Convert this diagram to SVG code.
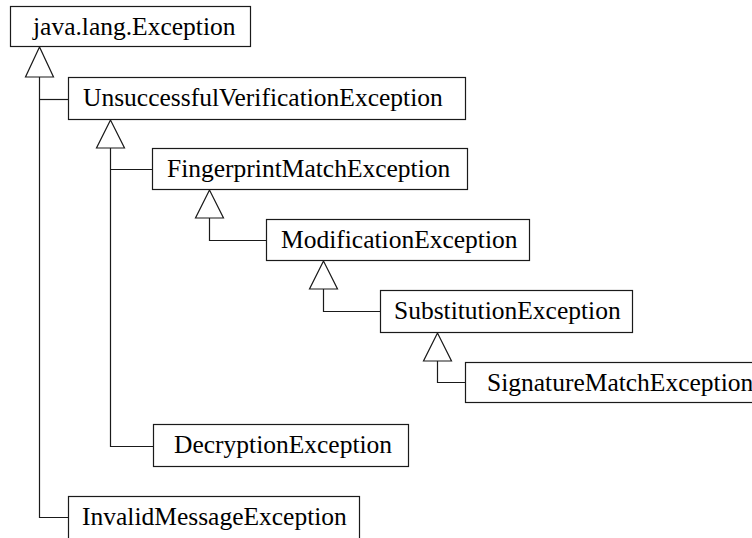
<svg xmlns="http://www.w3.org/2000/svg" width="752" height="538" viewBox="0 0 752 538">
  <style>
    .box rect { fill: #ffffff; stroke: #1a1a1a; stroke-width: 1.2; }
    .box text { font-family: "Liberation Serif", "Times New Roman", serif; font-size: 25.5px; fill: #000000; }
    .conn path { fill: none; stroke: #1a1a1a; stroke-width: 1.2; }
    .conn polygon { fill: #ffffff; stroke: #1a1a1a; stroke-width: 1.2; }
  </style>
  <rect width="752" height="538" fill="#ffffff"/>

  <!-- inheritance connectors: open triangle at the parent, elbow line to each child -->
  <g id="connectors" class="conn">
    <path d="M39.5,77 V517.5 H68"/>
    <path d="M39.5,99.5 H68"/>
    <polygon points="39.5,47 25.5,77 53.5,77"/>

    <path d="M110.5,148 V446.5 H153"/>
    <path d="M110.5,169.5 H152"/>
    <polygon points="110.5,120 96.5,148 124.5,148"/>

    <path d="M209.5,218 V240.5 H266"/>
    <polygon points="209.5,190 195.5,218 223.5,218"/>

    <path d="M323.5,289 V311.5 H380"/>
    <polygon points="323.5,261 309.5,289 337.5,289"/>

    <path d="M437.5,361 V382.5 H465"/>
    <polygon points="437.5,333 423.5,361 451.5,361"/>
  </g>

  <g id="java-lang-Exception" class="box">
    <rect x="10.5" y="6.5" width="240" height="40"/>
    <text x="33" y="35">java.lang.Exception</text>
  </g>
  <g id="UnsuccessfulVerificationException" class="box">
    <rect x="68.5" y="77.5" width="397" height="42"/>
    <text x="83" y="106">UnsuccessfulVerificationException</text>
  </g>
  <g id="FingerprintMatchException" class="box">
    <rect x="152.5" y="148.5" width="315" height="41"/>
    <text x="167" y="177">FingerprintMatchException</text>
  </g>
  <g id="ModificationException" class="box">
    <rect x="266.5" y="219.5" width="263" height="41"/>
    <text x="281" y="248">ModificationException</text>
  </g>
  <g id="SubstitutionException" class="box">
    <rect x="380.5" y="290.5" width="252" height="42"/>
    <text x="394" y="319">SubstitutionException</text>
  </g>
  <g id="SignatureMatchException" class="box">
    <rect x="465.5" y="362.5" width="300" height="40"/>
    <text x="487" y="391">SignatureMatchException</text>
  </g>
  <g id="DecryptionException" class="box">
    <rect x="153.5" y="424.5" width="255" height="42"/>
    <text x="174" y="453">DecryptionException</text>
  </g>
  <g id="InvalidMessageException" class="box">
    <rect x="68.5" y="496.5" width="291" height="50"/>
    <text x="82" y="525">InvalidMessageException</text>
  </g>
</svg>
